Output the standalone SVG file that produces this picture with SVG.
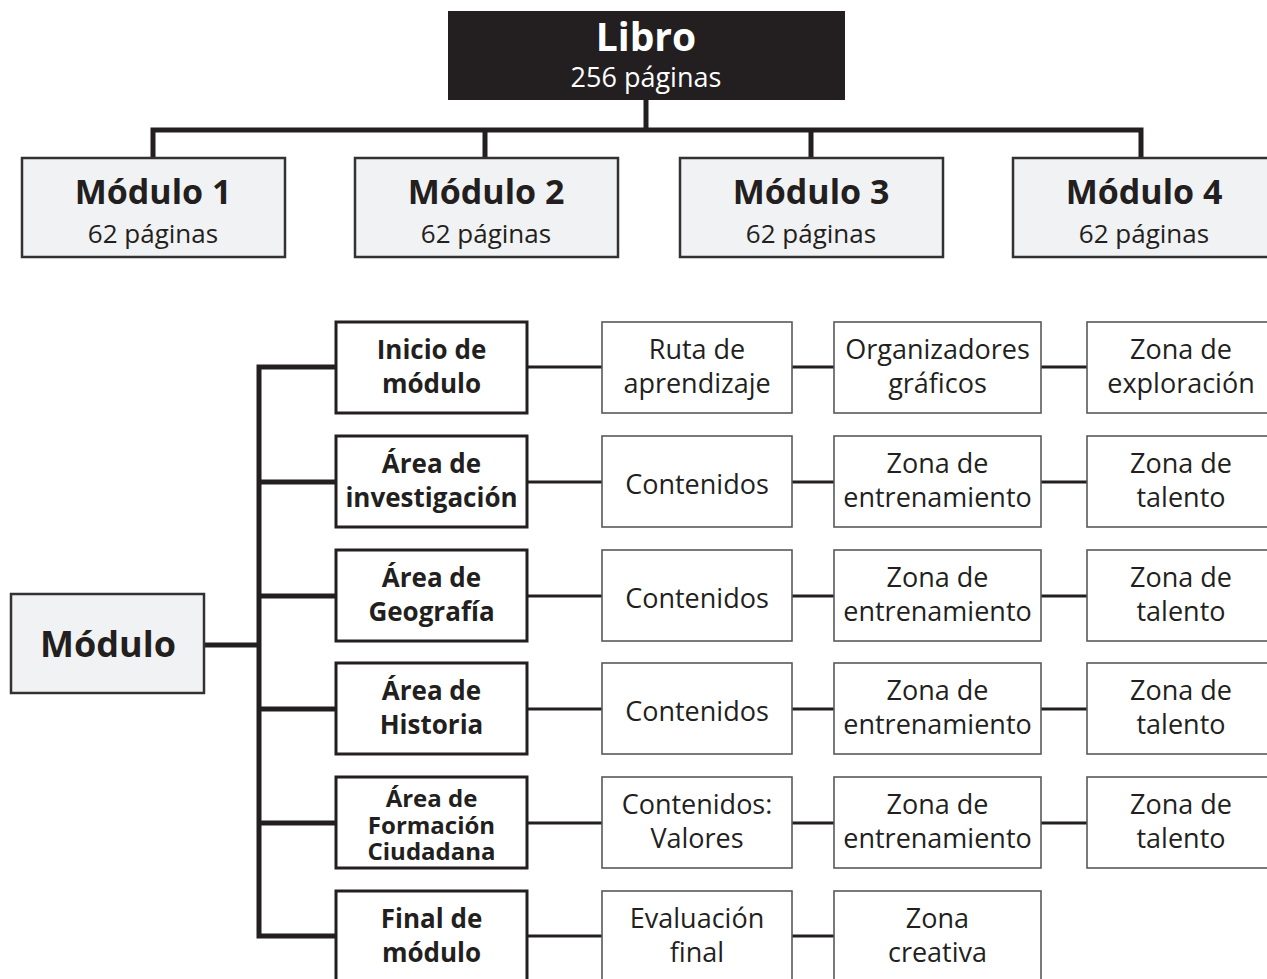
<svg xmlns="http://www.w3.org/2000/svg" width="1267" height="979" viewBox="0 0 1267 979">
<style>
text{font-family:"Open Sans","DejaVu Sans",sans-serif;fill:#231f20;text-anchor:middle}
.b{font-weight:bold}
.top{fill:#231f20}
.mod{fill:#f1f2f3;stroke:#333132;stroke-width:2.5}
.lb{fill:#fff;stroke:#231f20;stroke-width:3}
.rb{fill:#fff;stroke:#58595b;stroke-width:1.6}
.wire{fill:none;stroke:#231f20;stroke-width:5}
.thin{fill:none;stroke:#231f20;stroke-width:3.2}
.t26{font-size:26px}
.t27{font-size:27px}
.t24{font-size:24px}
</style>
<rect width="1267" height="979" fill="#fff"/>
<g id="connectors">
<path class="wire" d="M646 100V130M153 158V130H1141V158M485 130V158M811 130V158"/>
<path class="wire" d="M204 645H259M336 367H259V936H336M259 482H336M259 596H336M259 709H336M259 823H336"/>
<path class="thin" d="M527 367H602M792 367H834M1041 367H1087M527 482H602M792 482H834M1041 482H1087M527 596H602M792 596H834M1041 596H1087M527 709H602M792 709H834M1041 709H1087M527 823H602M792 823H834M1041 823H1087M527 936H602M792 936H834"/>
</g>
<g id="libro">
<rect class="top" x="448" y="11" width="397" height="89"/>
<text class="b" x="646" y="51" font-size="39" style="fill:#fff">Libro</text>
<text x="646" y="87" font-size="27" style="fill:#fff">256 páginas</text>
</g>
<g id="modulo1"><rect class="mod" x="22" y="158" width="263" height="99"/><text class="b" x="153" y="204" font-size="34">Módulo 1</text><text class="t26" x="153" y="243">62 páginas</text></g>
<g id="modulo2"><rect class="mod" x="355" y="158" width="263" height="99"/><text class="b" x="486" y="204" font-size="34">Módulo 2</text><text class="t26" x="486" y="243">62 páginas</text></g>
<g id="modulo3"><rect class="mod" x="680" y="158" width="263" height="99"/><text class="b" x="811" y="204" font-size="34">Módulo 3</text><text class="t26" x="811" y="243">62 páginas</text></g>
<g id="modulo4"><rect class="mod" x="1013" y="158" width="263" height="99"/><text class="b" x="1144" y="204" font-size="34">Módulo 4</text><text class="t26" x="1144" y="243">62 páginas</text></g>
<g id="modulo"><rect class="mod" x="11" y="594" width="193" height="99"/><text class="b" x="108" y="657" font-size="36">Módulo</text></g>
<g id="inicio"><rect class="lb" x="336" y="322" width="191" height="91"/><text class="b t26" x="431.5" y="359">Inicio de</text><text class="b t26" x="431.5" y="393">módulo</text></g>
<g id="investigacion"><rect class="lb" x="336" y="436" width="191" height="91"/><text class="b t26" x="431.5" y="473">Área de</text><text class="b t26" x="431.5" y="507">investigación</text></g>
<g id="geografia"><rect class="lb" x="336" y="550" width="191" height="91"/><text class="b t26" x="431.5" y="587">Área de</text><text class="b t26" x="431.5" y="621">Geografía</text></g>
<g id="historia"><rect class="lb" x="336" y="663" width="191" height="91"/><text class="b t26" x="431.5" y="700">Área de</text><text class="b t26" x="431.5" y="734">Historia</text></g>
<g id="formacion"><rect class="lb" x="336" y="777" width="191" height="91"/><text class="b t24" x="431.5" y="807">Área de</text><text class="b t24" x="431.5" y="834">Formación</text><text class="b t24" x="431.5" y="860">Ciudadana</text></g>
<g id="final"><rect class="lb" x="336" y="891" width="191" height="91"/><text class="b t26" x="431.5" y="928">Final de</text><text class="b t26" x="431.5" y="962">módulo</text></g>
<g id="ruta"><rect class="rb" x="602" y="322" width="190" height="91"/><text class="t27" x="697" y="359">Ruta de</text><text class="t27" x="697" y="393">aprendizaje</text></g>
<g id="organizadores"><rect class="rb" x="834" y="322" width="207" height="91"/><text class="t27" x="937.5" y="359">Organizadores</text><text class="t27" x="937.5" y="393">gráficos</text></g>
<g id="exploracion"><rect class="rb" x="1087" y="322" width="189" height="91"/><text class="t27" x="1181" y="359">Zona de</text><text class="t27" x="1181" y="393">exploración</text></g>
<g id="contenidos1"><rect class="rb" x="602" y="436" width="190" height="91"/><text class="t27" x="697" y="494">Contenidos</text></g>
<g id="entrenamiento1"><rect class="rb" x="834" y="436" width="207" height="91"/><text class="t27" x="937.5" y="473">Zona de</text><text class="t27" x="937.5" y="507">entrenamiento</text></g>
<g id="talento1"><rect class="rb" x="1087" y="436" width="189" height="91"/><text class="t27" x="1181" y="473">Zona de</text><text class="t27" x="1181" y="507">talento</text></g>
<g id="contenidos2"><rect class="rb" x="602" y="550" width="190" height="91"/><text class="t27" x="697" y="608">Contenidos</text></g>
<g id="entrenamiento2"><rect class="rb" x="834" y="550" width="207" height="91"/><text class="t27" x="937.5" y="587">Zona de</text><text class="t27" x="937.5" y="621">entrenamiento</text></g>
<g id="talento2"><rect class="rb" x="1087" y="550" width="189" height="91"/><text class="t27" x="1181" y="587">Zona de</text><text class="t27" x="1181" y="621">talento</text></g>
<g id="contenidos3"><rect class="rb" x="602" y="663" width="190" height="91"/><text class="t27" x="697" y="721">Contenidos</text></g>
<g id="entrenamiento3"><rect class="rb" x="834" y="663" width="207" height="91"/><text class="t27" x="937.5" y="700">Zona de</text><text class="t27" x="937.5" y="734">entrenamiento</text></g>
<g id="talento3"><rect class="rb" x="1087" y="663" width="189" height="91"/><text class="t27" x="1181" y="700">Zona de</text><text class="t27" x="1181" y="734">talento</text></g>
<g id="valores"><rect class="rb" x="602" y="777" width="190" height="91"/><text class="t27" x="697" y="814">Contenidos:</text><text class="t27" x="697" y="848">Valores</text></g>
<g id="entrenamiento4"><rect class="rb" x="834" y="777" width="207" height="91"/><text class="t27" x="937.5" y="814">Zona de</text><text class="t27" x="937.5" y="848">entrenamiento</text></g>
<g id="talento4"><rect class="rb" x="1087" y="777" width="189" height="91"/><text class="t27" x="1181" y="814">Zona de</text><text class="t27" x="1181" y="848">talento</text></g>
<g id="evaluacion"><rect class="rb" x="602" y="891" width="190" height="91"/><text class="t27" x="697" y="928">Evaluación</text><text class="t27" x="697" y="962">final</text></g>
<g id="creativa"><rect class="rb" x="834" y="891" width="207" height="91"/><text class="t27" x="937.5" y="928">Zona</text><text class="t27" x="937.5" y="962">creativa</text></g>
</svg>
